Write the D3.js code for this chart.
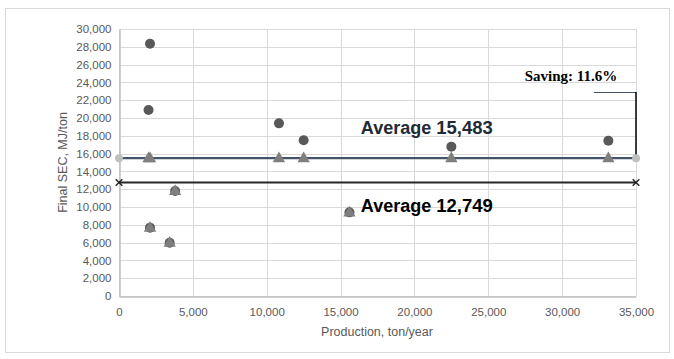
<!DOCTYPE html>
<html>
<head>
<meta charset="utf-8">
<script src="https://cdn.jsdelivr.net/npm/d3@7"></script>
<style>
  body { margin: 0; background: #fff; }
  svg { display: block; }
</style>
</head>
<body>
<svg id="chart" width="674" height="359"></svg>
<script>
// Measured plants: production (ton/year) and final SEC (MJ/ton)
const production = [2100, 2000, 10830, 12500, 22500, 33130, 3800, 2100, 3430, 15600];
const finalSec = [28350, 20900, 19400, 17500, 16780, 17450, 11800, 7680, 5990, 9400];
// Target SEC after capping at the average
const targetSec = [15483, 15483, 15483, 15483, 15483, 15483, 11800, 7680, 5990, 9400];

const averageBefore = 15483;
const averageAfter = 12749;
const averageRange = [0, 35000];

const xTicks = [0, 5000, 10000, 15000, 20000, 25000, 30000, 35000];
const yTicks = d3.range(0, 30001, 2000);

const svg = d3.select('#chart');
const plot = { left: 119, right: 636, top: 29, bottom: 296 };

const x = d3.scaleLinear().domain([0, 35000]).range([plot.left, plot.right]);
const y = d3.scaleLinear().domain([0, 30000]).range([plot.bottom, plot.top]);
const fmt = d3.format(',');

// background + outer frame
svg.append('rect')
  .attr('x', 5.5).attr('y', 8.5)
  .attr('width', 664).attr('height', 344)
  .attr('fill', '#fff')
  .attr('stroke', '#d9d9d9');

// gridlines
const grid = svg.append('g');
grid.selectAll('.hg').data(yTicks).join('line')
  .attr('x1', plot.left).attr('x2', plot.right)
  .attr('y1', d => Math.round(y(d)) + 0.5).attr('y2', d => Math.round(y(d)) + 0.5)
  .attr('stroke', '#d9d9d9').attr('stroke-width', 1);
grid.selectAll('.vg').data(xTicks).join('line')
  .attr('y1', plot.top).attr('y2', plot.bottom)
  .attr('x1', d => Math.round(x(d)) + 0.5).attr('x2', d => Math.round(x(d)) + 0.5)
  .attr('stroke', '#d9d9d9').attr('stroke-width', 1);

// axes
const xAxis = svg.append('g')
  .attr('transform', `translate(0,${plot.bottom + 0.5})`)
  .call(d3.axisBottom(x).tickValues(xTicks).tickFormat(fmt).tickSize(0).tickPadding(11));
const yAxis = svg.append('g')
  .attr('transform', `translate(${plot.left + 0.5},0)`)
  .call(d3.axisLeft(y).tickValues(yTicks).tickFormat(fmt).tickSize(0).tickPadding(8));

[xAxis, yAxis].forEach(ax => {
  ax.select('.domain').attr('stroke', '#bfbfbf').attr('stroke-width', 1.5);
  ax.selectAll('text')
    .attr('fill', '#595959')
    .style('font-family', '"Liberation Sans", Arial, sans-serif')
    .style('font-size', '11.5px');
});

// axis titles
svg.append('text')
  .attr('x', 377).attr('y', 336)
  .attr('text-anchor', 'middle')
  .attr('fill', '#595959')
  .style('font-family', '"Liberation Sans", Arial, sans-serif')
  .style('font-size', '12.5px')
  .text('Production, ton/year');

svg.append('text')
  .attr('transform', `translate(67,${(plot.top + plot.bottom) / 2}) rotate(-90)`)
  .attr('text-anchor', 'middle')
  .attr('fill', '#595959')
  .style('font-family', '"Liberation Sans", Arial, sans-serif')
  .style('font-size', '12.5px')
  .text('Final SEC, MJ/ton');

// average line (after savings) with x markers
svg.append('line')
  .attr('x1', x(averageRange[0])).attr('x2', x(averageRange[1]))
  .attr('y1', y(averageAfter)).attr('y2', y(averageAfter))
  .attr('stroke', '#262626').attr('stroke-width', 2);
svg.selectAll('.xmark').data(averageRange).join('path')
  .attr('d', d3.symbol(d3.symbolX, 30)())
  .attr('transform', d => `translate(${x(d)},${y(averageAfter)})`)
  .attr('fill', 'none')
  .attr('stroke', '#262626').attr('stroke-width', 1.5);

// average line (current)
svg.append('line')
  .attr('x1', x(averageRange[0])).attr('x2', x(averageRange[1]))
  .attr('y1', y(averageBefore)).attr('y2', y(averageBefore))
  .attr('stroke', '#44546a').attr('stroke-width', 2.2);

// saving bracket
svg.append('line')
  .attr('x1', x(32150)).attr('x2', x(35000))
  .attr('y1', 92.5).attr('y2', 92.5)
  .attr('stroke', '#44546a').attr('stroke-width', 1);
svg.append('line')
  .attr('x1', x(35000)).attr('x2', x(35000))
  .attr('y1', 92).attr('y2', y(averageBefore) - 3)
  .attr('stroke', '#000').attr('stroke-width', 1.5);

svg.selectAll('.endmark').data(averageRange).join('circle')
  .attr('cx', d => x(d)).attr('cy', y(averageBefore))
  .attr('r', 4)
  .attr('fill', '#bfbfbf');

// data points
const pts = production.map((p, i) => ({ p, sec: finalSec[i], target: targetSec[i] }));

svg.append('g').selectAll('circle').data(pts).join('circle')
  .attr('cx', d => x(d.p)).attr('cy', d => y(d.sec))
  .attr('r', 5)
  .attr('fill', '#595959');

svg.append('g').selectAll('path').data(pts).join('path')
  .attr('d', d3.symbol(d3.symbolTriangle, 66)())
  .attr('transform', d => `translate(${x(d.p)},${y(d.target) + 0.5})`)
  .attr('fill', '#7f7f7f');

// annotations
const label = (xv, yv, parts, color) => {
  const t = svg.append('text')
    .attr('x', x(xv)).attr('y', yv)
    .attr('fill', color)
    .style('font-family', '"Liberation Sans", Arial, sans-serif')
    .style('font-weight', 'bold');
  parts.forEach(([txt, size]) => t.append('tspan').style('font-size', size).text(txt));
};
label(16370, 134, [['Average ', '18px'], [fmt(averageBefore), '18.5px']], '#222a35');
label(16370, 212, [['Average ', '18px'], [fmt(averageAfter), '18.5px']], '#000');

svg.append('text')
  .attr('x', 571).attr('y', 81)
  .attr('text-anchor', 'middle')
  .attr('fill', '#000')
  .style('font-family', '"Liberation Serif", "Times New Roman", serif')
  .style('font-weight', 'bold')
  .style('font-size', '15px')
  .text('Saving: 11.6%');
</script>
</body>
</html>
